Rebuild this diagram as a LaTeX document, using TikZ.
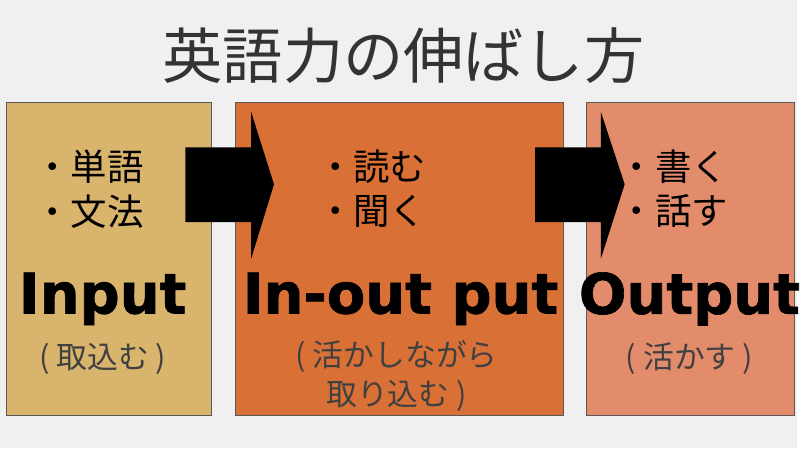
\documentclass[tikz,border=0pt]{standalone}
\usepackage{fontspec}
\setmainfont{Noto Sans CJK JP}
\newfontfamily\headfont{DejaVu Sans}[BoldFeatures={FakeBold=1.2}]
\usetikzlibrary{positioning}
\definecolor{bggrey}{HTML}{F0F0F0}
\definecolor{inputcol}{HTML}{D8B46C}
\definecolor{inoutcol}{HTML}{D97036}
\definecolor{outputcol}{HTML}{E38C6C}
\definecolor{notegrey}{HTML}{404040}
\definecolor{titlegrey}{HTML}{333333}

\begin{document}
\begin{tikzpicture}[x=0.025cm,y=-0.025cm,
    stagebox/.style={draw=black!65,line width=0.6pt},
    item/.style={anchor=west,inner sep=0pt,font=\fontsize{26}{30}\selectfont},
    bigword/.style={inner sep=0pt,font=\headfont\bfseries\fontsize{40}{44}\selectfont},
    note/.style={inner sep=0pt,text=notegrey,align=center,font=\fontsize{22}{28}\selectfont}]
    \fill[bggrey] (0,0) rectangle (800,450);
    \node[text=titlegrey,font=\fontsize{43}{47}\selectfont] (title) at (405,56) {英語力の伸ばし方};
    % stage boxes
    \draw[stagebox,fill=inputcol] (6,103) rectangle (212,417);
    \draw[stagebox,fill=inoutcol] (236,103) rectangle (566,417);
    \draw[stagebox,fill=outputcol] (589,103) rectangle (797,417);
    % block arrows
    \fill[black] (186,148) -- (252,148) -- (252,112) -- (275,185) -- (252,260) -- (252,223) -- (186,223) -- cycle;
    \fill[black] (537,148) -- (603,148) -- (603,112) -- (627,185) -- (603,260) -- (603,223) -- (537,223) -- cycle;
    % input
    \node[item] (a1) at (34,167) {・単語};
    \node[item] (a2) at (34,212) {・文法};
    \node[bigword] (a) at (103,300) {Input};
    \node[note] (an) at (103,360) {( 取込む )};
    % in-out put
    \node[item] (b1) at (318,167) {・読む};
    \node[item] (b2) at (318,212) {・聞く};
    \node[bigword] (b) at (402,300) {In-out put};
    \node[note] (bn) at (398,377) {( 活かしながら\\取り込む )};
    % output
    \node[item] (c1) at (621,167) {・書く};
    \node[item] (c2) at (621,212) {・話す};
    \node[bigword] (c) at (692,300) {Output};
    \node[note] (cn) at (692,360) {( 活かす )};
\end{tikzpicture}
\end{document}
